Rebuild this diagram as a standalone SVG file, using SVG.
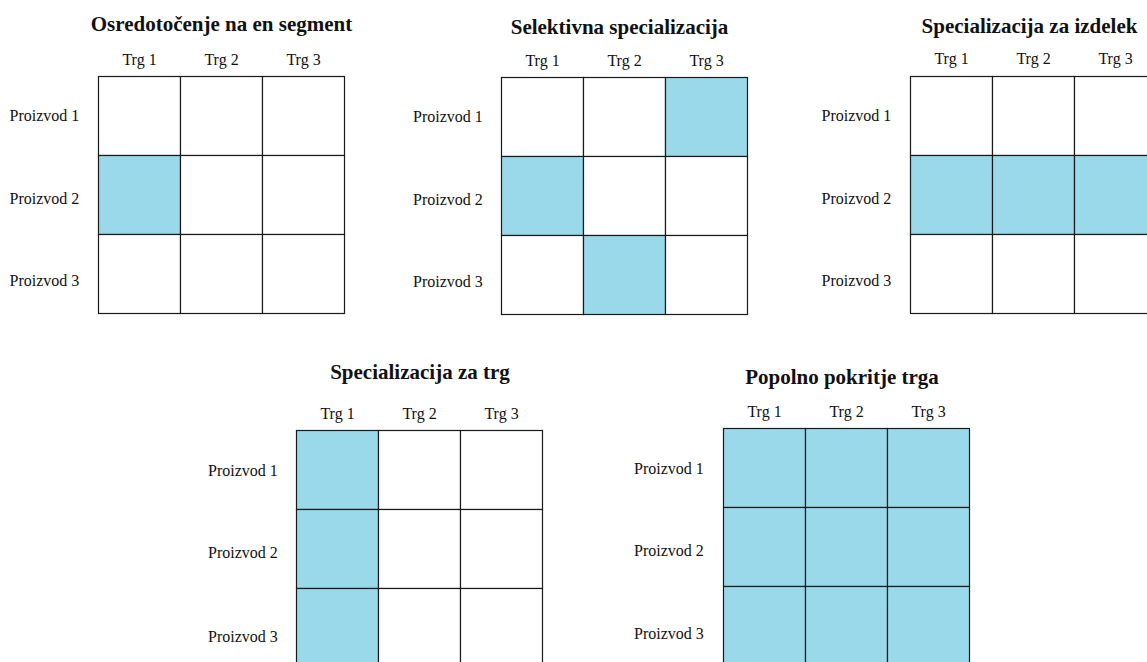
<svg xmlns="http://www.w3.org/2000/svg" width="1147" height="662" viewBox="0 0 1147 662">
  <style>
    .title { font-family: "Liberation Serif", "Times New Roman", serif; font-size: 21px; font-weight: bold; fill: #111; text-anchor: middle; }
    .col { font-family: "Liberation Serif", "Times New Roman", serif; font-size: 16px; fill: #111; text-anchor: middle; }
    .row { font-family: "Liberation Serif", "Times New Roman", serif; font-size: 16px; fill: #111; }
    .cell { fill: #ffffff; stroke: #1a1a1a; stroke-width: 1.2; }
    .on { fill: #99d9ea; }
  </style>
  <rect width="1147" height="662" fill="#ffffff"/>

  <!-- Osredotočenje na en segment -->
  <g id="grid-segment">
    <text class="title" x="221.5" y="31">Osredotočenje na en segment</text>
    <text class="col" x="139.5" y="64.5">Trg 1</text>
    <text class="col" x="221.5" y="64.5">Trg 2</text>
    <text class="col" x="303.5" y="64.5">Trg 3</text>
    <text class="row" x="9.5" y="121">Proizvod 1</text>
    <text class="row" x="9.5" y="204">Proizvod 2</text>
    <text class="row" x="9.5" y="286">Proizvod 3</text>
    <rect class="cell" x="98.5" y="76.5" width="82" height="79"/>
    <rect class="cell" x="180.5" y="76.5" width="82" height="79"/>
    <rect class="cell" x="262.5" y="76.5" width="82" height="79"/>
    <rect class="cell on" x="98.5" y="155.5" width="82" height="79"/>
    <rect class="cell" x="180.5" y="155.5" width="82" height="79"/>
    <rect class="cell" x="262.5" y="155.5" width="82" height="79"/>
    <rect class="cell" x="98.5" y="234.5" width="82" height="79"/>
    <rect class="cell" x="180.5" y="234.5" width="82" height="79"/>
    <rect class="cell" x="262.5" y="234.5" width="82" height="79"/>
  </g>

  <!-- Selektivna specializacija -->
  <g id="grid-selective">
    <text class="title" x="619.5" y="34">Selektivna specializacija</text>
    <text class="col" x="542.5" y="65.5">Trg 1</text>
    <text class="col" x="624.5" y="65.5">Trg 2</text>
    <text class="col" x="706.5" y="65.5">Trg 3</text>
    <text class="row" x="413" y="122">Proizvod 1</text>
    <text class="row" x="413" y="205">Proizvod 2</text>
    <text class="row" x="413" y="287">Proizvod 3</text>
    <rect class="cell" x="501.5" y="77.5" width="82" height="79"/>
    <rect class="cell" x="583.5" y="77.5" width="82" height="79"/>
    <rect class="cell on" x="665.5" y="77.5" width="82" height="79"/>
    <rect class="cell on" x="501.5" y="156.5" width="82" height="79"/>
    <rect class="cell" x="583.5" y="156.5" width="82" height="79"/>
    <rect class="cell" x="665.5" y="156.5" width="82" height="79"/>
    <rect class="cell" x="501.5" y="235.5" width="82" height="79"/>
    <rect class="cell on" x="583.5" y="235.5" width="82" height="79"/>
    <rect class="cell" x="665.5" y="235.5" width="82" height="79"/>
  </g>

  <!-- Specializacija za izdelek -->
  <g id="grid-product">
    <text class="title" x="1029.5" y="32.5">Specializacija za izdelek</text>
    <text class="col" x="951.5" y="64">Trg 1</text>
    <text class="col" x="1033.5" y="64">Trg 2</text>
    <text class="col" x="1115.5" y="64">Trg 3</text>
    <text class="row" x="821.5" y="121">Proizvod 1</text>
    <text class="row" x="821.5" y="203.5">Proizvod 2</text>
    <text class="row" x="821.5" y="286">Proizvod 3</text>
    <rect class="cell" x="910.5" y="76.5" width="82" height="79"/>
    <rect class="cell" x="992.5" y="76.5" width="82" height="79"/>
    <rect class="cell" x="1074.5" y="76.5" width="82" height="79"/>
    <rect class="cell on" x="910.5" y="155.5" width="82" height="79"/>
    <rect class="cell on" x="992.5" y="155.5" width="82" height="79"/>
    <rect class="cell on" x="1074.5" y="155.5" width="82" height="79"/>
    <rect class="cell" x="910.5" y="234.5" width="82" height="79"/>
    <rect class="cell" x="992.5" y="234.5" width="82" height="79"/>
    <rect class="cell" x="1074.5" y="234.5" width="82" height="79"/>
  </g>

  <!-- Specializacija za trg -->
  <g id="grid-market">
    <text class="title" x="420" y="378.5">Specializacija za trg</text>
    <text class="col" x="337.5" y="418.5">Trg 1</text>
    <text class="col" x="419.5" y="418.5">Trg 2</text>
    <text class="col" x="501.5" y="418.5">Trg 3</text>
    <text class="row" x="208" y="475.5">Proizvod 1</text>
    <text class="row" x="208" y="557.5">Proizvod 2</text>
    <text class="row" x="208" y="641.5">Proizvod 3</text>
    <rect class="cell on" x="296.5" y="430.5" width="82" height="79"/>
    <rect class="cell" x="378.5" y="430.5" width="82" height="79"/>
    <rect class="cell" x="460.5" y="430.5" width="82" height="79"/>
    <rect class="cell on" x="296.5" y="509.5" width="82" height="79"/>
    <rect class="cell" x="378.5" y="509.5" width="82" height="79"/>
    <rect class="cell" x="460.5" y="509.5" width="82" height="79"/>
    <rect class="cell on" x="296.5" y="588.5" width="82" height="79"/>
    <rect class="cell" x="378.5" y="588.5" width="82" height="79"/>
    <rect class="cell" x="460.5" y="588.5" width="82" height="79"/>
  </g>

  <!-- Popolno pokritje trga -->
  <g id="grid-full">
    <text class="title" x="842" y="383.5">Popolno pokritje trga</text>
    <text class="col" x="764.5" y="416.5">Trg 1</text>
    <text class="col" x="846.5" y="416.5">Trg 2</text>
    <text class="col" x="928.5" y="416.5">Trg 3</text>
    <text class="row" x="634" y="473.5">Proizvod 1</text>
    <text class="row" x="634" y="556">Proizvod 2</text>
    <text class="row" x="634" y="638.5">Proizvod 3</text>
    <rect class="cell on" x="723.5" y="428.5" width="82" height="79"/>
    <rect class="cell on" x="805.5" y="428.5" width="82" height="79"/>
    <rect class="cell on" x="887.5" y="428.5" width="82" height="79"/>
    <rect class="cell on" x="723.5" y="507.5" width="82" height="79"/>
    <rect class="cell on" x="805.5" y="507.5" width="82" height="79"/>
    <rect class="cell on" x="887.5" y="507.5" width="82" height="79"/>
    <rect class="cell on" x="723.5" y="586.5" width="82" height="79"/>
    <rect class="cell on" x="805.5" y="586.5" width="82" height="79"/>
    <rect class="cell on" x="887.5" y="586.5" width="82" height="79"/>
  </g>

  <!-- no connectors in this figure -->
  <g id="connectors"/>
</svg>
